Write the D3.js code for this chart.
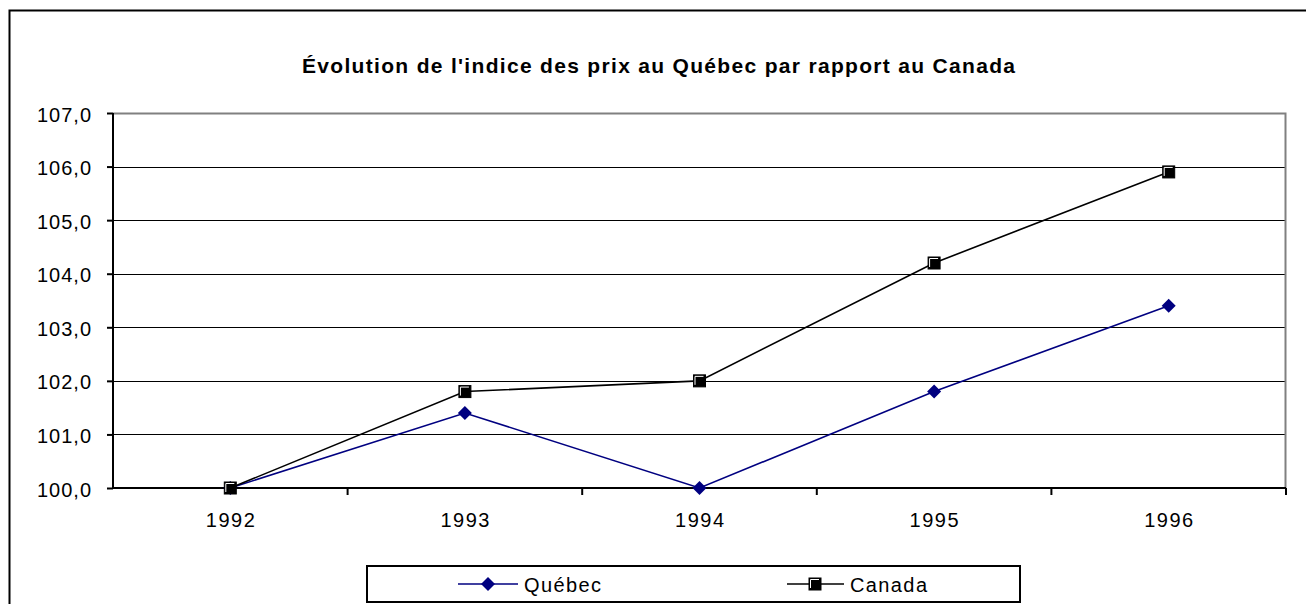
<html><head>
<meta charset="utf-8">
<title>Évolution de l'indice des prix</title>
<style>
  body { margin: 0; background: #fff; }
  svg { display: block; font-family: "Liberation Sans", Arial, sans-serif; }
</style>
<script src="https://d3js.org/d3.v7.min.js"></script>
</head>
<body>
<svg id="chart" width="1306" height="604"></svg>
<script>
const years = ["1992", "1993", "1994", "1995", "1996"];
const quebec = [100.0, 101.4, 100.0, 101.8, 103.4];
const canada = [100.0, 101.8, 102.0, 104.2, 105.9];
const yTicks = [100, 101, 102, 103, 104, 105, 106, 107];

const svg = d3.select("#chart");
const plotL = 113, plotR = 1286, plotT = 113, plotB = 488;
const font = "Liberation Sans, Arial, sans-serif";

// outer chart frame (cropped on the right and bottom)
svg.append("rect")
  .attr("x", 9.5).attr("y", 10.5)
  .attr("width", 1320).attr("height", 620)
  .attr("fill", "none").attr("stroke", "#000").attr("stroke-width", 2);

svg.append("text")
  .attr("x", 302).attr("y", 73)
  .attr("font-size", 21).attr("font-weight", "bold")
  .attr("textLength", 713).attr("lengthAdjust", "spacing")
  .text("Évolution de l'indice des prix au Québec par rapport au Canada");

const x = d3.scaleBand().domain(years).range([plotL, plotR]);
const y = d3.scaleLinear().domain([100, 107]).range([plotB, plotT]);
const cx = d => x(d) + x.bandwidth() / 2;

// gridlines
svg.append("g").selectAll("line")
  .data(yTicks.filter(d => d > 100 && d < 107))
  .join("line")
  .attr("x1", plotL).attr("x2", plotR)
  .attr("y1", d => Math.round(y(d)) + 0.5).attr("y2", d => Math.round(y(d)) + 0.5)
  .attr("stroke", "#000").attr("stroke-width", 1);

// plot area border (grey top and right)
svg.append("path")
  .attr("d", `M${plotL},${plotT + 0.5}H${plotR - 0.5}V${plotB}`)
  .attr("fill", "none").attr("stroke", "#808080").attr("stroke-width", 2);

// y axis
const yAxis = svg.append("g")
  .attr("transform", `translate(${plotL},0)`)
  .call(d3.axisLeft(y).tickValues(yTicks).tickSize(6).tickPadding(16)
    .tickFormat(d => d3.format(".1f")(d).replace(".", ",")));
yAxis.select(".domain").attr("stroke-width", 2).attr("d", `M0,${plotT}V${plotB}`);
yAxis.selectAll(".tick line").attr("stroke-width", 2);
yAxis.selectAll("text")
  .attr("font-size", 20).attr("fill", "#000").attr("font-family", font)
  .attr("dy", "0.4em").attr("textLength", 54).attr("lengthAdjust", "spacing");

// x axis
const xAxis = svg.append("g")
  .attr("transform", `translate(0,${plotB})`)
  .call(d3.axisBottom(x).tickSize(0).tickPadding(25));
xAxis.select(".domain").attr("stroke-width", 2).attr("d", `M${plotL},0H${plotR}`);
xAxis.selectAll("text")
  .attr("font-size", 20).attr("fill", "#000").attr("font-family", font)
  .attr("textLength", 49).attr("lengthAdjust", "spacing");
xAxis.selectAll(".sep").data(years).join("line")
  .attr("class", "sep")
  .attr("x1", d => x(d) + x.bandwidth()).attr("x2", d => x(d) + x.bandwidth())
  .attr("y1", 0).attr("y2", 7)
  .attr("stroke", "#000").attr("stroke-width", 2);

const line = d3.line().x((d, i) => cx(years[i])).y(d => y(d));

svg.append("path").datum(quebec).attr("d", line)
  .attr("fill", "none").attr("stroke", "#000080").attr("stroke-width", 1.6);
svg.append("path").datum(canada).attr("d", line)
  .attr("fill", "none").attr("stroke", "#000").attr("stroke-width", 1.6);

function diamond(g, px, py) {
  g.append("path")
    .attr("d", `M${px},${py - 7}L${px + 7},${py}L${px},${py + 7}L${px - 7},${py}Z`)
    .attr("fill", "#000080");
}
function square(g, px, py) {
  g.append("rect").attr("x", px - 6).attr("y", py - 6).attr("width", 12).attr("height", 12)
    .attr("fill", "#000").attr("stroke", "#000").attr("stroke-width", 1);
  g.append("path").attr("d", `M${px - 4.5},${py + 4}V${py - 4.5}H${px + 4}`)
    .attr("fill", "none").attr("stroke", "#fff").attr("stroke-width", 1);
}

const markers = svg.append("g");
quebec.forEach((v, i) => diamond(markers, cx(years[i]), y(v)));
canada.forEach((v, i) => square(markers, cx(years[i]), y(v)));

// legend
const legend = svg.append("g");
legend.append("rect")
  .attr("x", 367).attr("y", 566).attr("width", 653).attr("height", 36)
  .attr("fill", "#fff").attr("stroke", "#000").attr("stroke-width", 2);
const ly = 584;
legend.append("line").attr("x1", 458).attr("x2", 518).attr("y1", ly).attr("y2", ly)
  .attr("stroke", "#000080").attr("stroke-width", 1.6);
diamond(legend, 488, ly);
legend.append("text").attr("x", 524).attr("y", ly + 8).attr("font-size", 20)
  .attr("textLength", 77).attr("lengthAdjust", "spacing").text("Québec");
legend.append("line").attr("x1", 787).attr("x2", 844).attr("y1", ly).attr("y2", ly)
  .attr("stroke", "#000").attr("stroke-width", 1.6);
square(legend, 815, ly);
legend.append("text").attr("x", 850).attr("y", ly + 8).attr("font-size", 20)
  .attr("textLength", 77).attr("lengthAdjust", "spacing").text("Canada");
</script>
</body></html>
